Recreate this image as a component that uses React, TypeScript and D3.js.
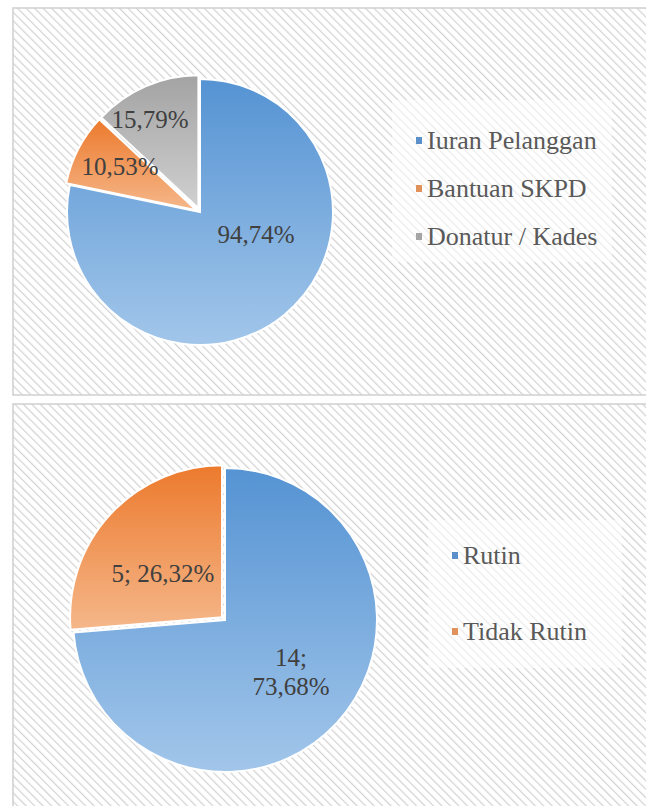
import React from 'react';
import * as d3 from 'd3';

// chart 1: sumber dana
const sumberLabels = ['Iuran Pelanggan', 'Bantuan SKPD', 'Donatur / Kades'];
const sumberValues = [94.74, 10.53, 15.79];
const sumberText = ['94,74%', '10,53%', '15,79%'];

// chart 2: rutin / tidak rutin
const rutinLabels = ['Rutin', 'Tidak Rutin'];
const rutinCounts = [14, 5];
const rutinText = [['14;', '73,68%'], ['5; 26,32%']];

const W = 646;
const H = 806;
const FONT = '"Liberation Serif"';

// [top colour, bottom colour] for each slice gradient
const fills = [
  ['#5593d3', '#a2c6ea'],
  ['#ec7a2d', '#f5b78a'],
  ['#a3a3a3', '#d0d0d0'],
];
const legendSwatch = ['#5b8fc9', '#e0925a', '#a5a5a5'];

type PieProps = {
  id: string;
  cx: number;
  cy: number;
  r: number;
  values: number[];
  texts: string[][];
  labelPos: [number, number][];
};

function Pie({ id, cx, cy, r, values, texts, labelPos }: PieProps) {
  const arcs = d3.pie<number>().sort(null).value(d => d)(values);
  const arc = d3.arc<d3.PieArcDatum<number>>().innerRadius(0).outerRadius(r);
  const explode = 4;
  return (
    <g transform={`translate(${cx},${cy})`}>
      {arcs.map((a, i) => {
        const mid = (a.startAngle + a.endAngle) / 2;
        const off = i === 0 ? 0 : explode;
        const dx = Math.sin(mid) * off;
        const dy = -Math.cos(mid) * off;
        return (
          <path
            key={i}
            d={arc(a) || ''}
            transform={`translate(${dx},${dy})`}
            fill={`url(#${id}-g${i})`}
            stroke="#ffffff"
            strokeWidth={2}
          />
        );
      })}
      {texts.map((lines, i) => (
        <text
          key={i}
          x={labelPos[i][0]}
          y={labelPos[i][1]}
          textAnchor="middle"
          style={{ fontFamily: FONT, fontSize: 25 }}
          fill="#404040"
        >
          {lines.map((t, j) => (
            <tspan key={j} x={labelPos[i][0]} dy={j === 0 ? 0 : 29}>{t}</tspan>
          ))}
        </text>
      ))}
    </g>
  );
}

function Legend({ x, y, w, h, labels, rowY }: { x: number; y: number; w: number; h: number; labels: string[]; rowY: number[] }) {
  return (
    <g>
      <rect x={x} y={y} width={w} height={h} fill="#ffffff" opacity={0.55} />
      {labels.map((l, i) => (
        <g key={l} transform={`translate(${x},${rowY[i]})`}>
          <rect x={24} y={-4} width={6} height={7} fill={legendSwatch[i]} />
          <text x={35} y={8} style={{ fontFamily: FONT, fontSize: 26 }} fill="#595959">{l}</text>
        </g>
      ))}
    </g>
  );
}

export default function App() {
  const gradDefs = (id: string, n: number) =>
    d3.range(n).map(i => (
      <linearGradient key={`${id}${i}`} id={`${id}-g${i}`} x1="0" y1="0" x2="0" y2="1">
        <stop offset="0%" stopColor={fills[i][0]} />
        <stop offset="100%" stopColor={fills[i][1]} />
      </linearGradient>
    ));

  return (
    <svg width={W} height={H} style={{ position: 'absolute', left: 0, top: 0 }}>
      <defs>
        <pattern id="hatch" width={6} height={6} patternUnits="userSpaceOnUse" patternTransform="rotate(-45)">
          <rect width={6} height={6} fill="#ffffff" />
          <line x1={0} y1={0} x2={0} y2={6} stroke="#d2d2d2" strokeWidth={2.4} />
        </pattern>
        {gradDefs('p1', 3)}
        {gradDefs('p2', 2)}
      </defs>
      <rect width={W} height={H} fill="#ffffff" />

      {/* top panel */}
      <rect x={13} y={8} width={W} height={387} fill="url(#hatch)" stroke="#d0d0d0" strokeWidth={1.5} />
      <Legend x={392} y={100} w={220} h={162} labels={sumberLabels} rowY={[141, 189, 237]} />
      <Pie
        id="p1"
        cx={200}
        cy={212}
        r={133}
        values={sumberValues}
        texts={sumberText.map(t => [t])}
        labelPos={[[56, 31], [-80, -37], [-50, -84]]}
      />

      {/* bottom panel */}
      <rect x={13} y={404} width={W} height={H} fill="url(#hatch)" stroke="#d0d0d0" strokeWidth={1.5} />
      <Legend x={428} y={520} w={194} h={148} labels={rutinLabels} rowY={[556, 632]} />
      <Pie
        id="p2"
        cx={225}
        cy={620}
        r={152}
        values={rutinCounts}
        texts={rutinText}
        labelPos={[[66, 46], [-62, -38]]}
      />
    </svg>
  );
}
